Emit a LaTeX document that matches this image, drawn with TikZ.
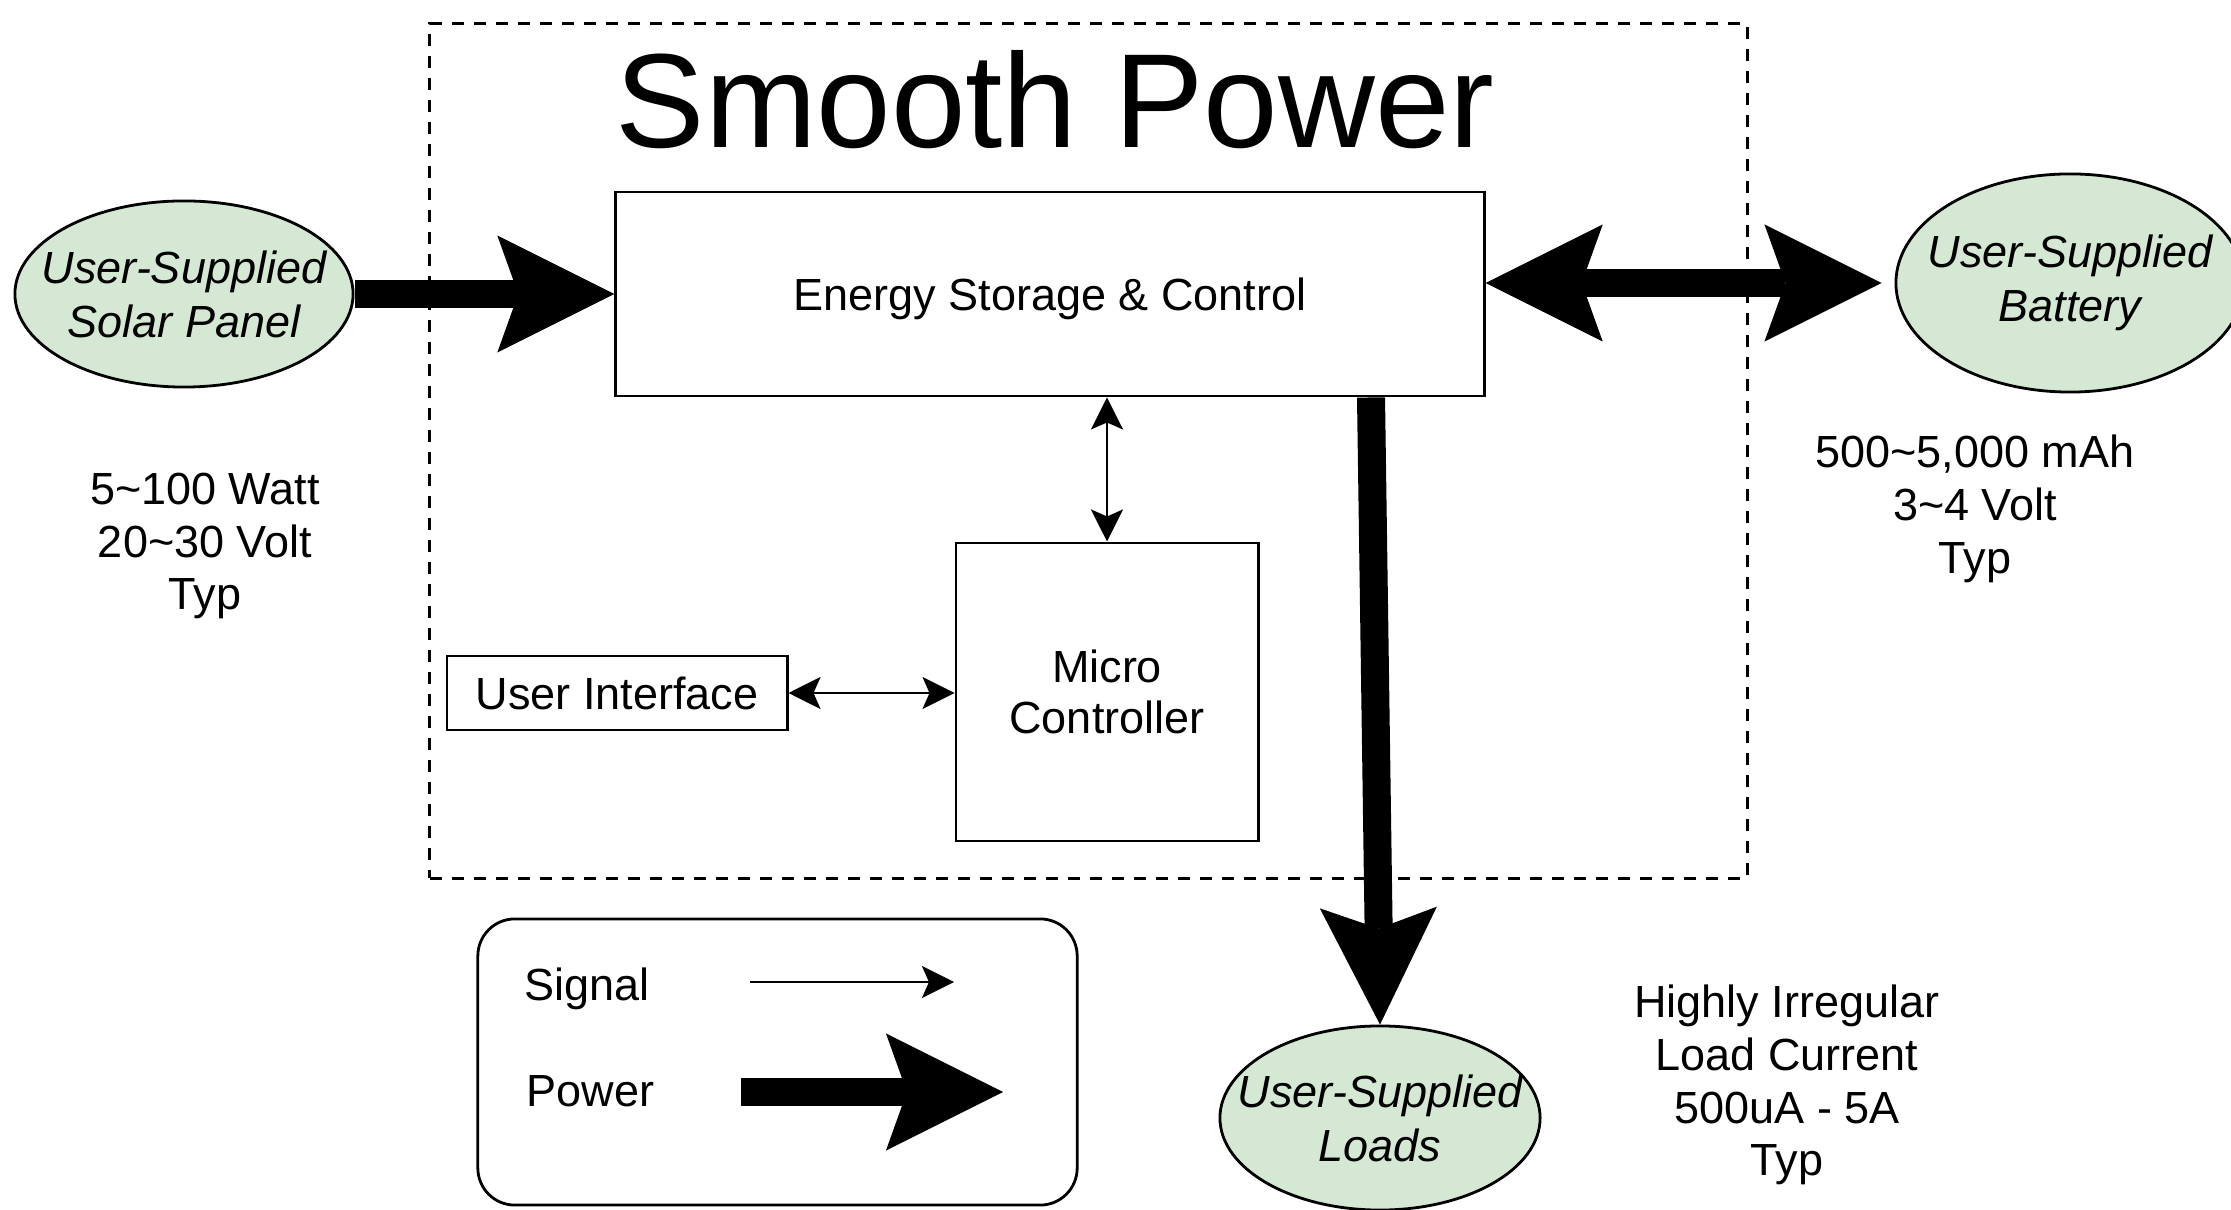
\documentclass[tikz,border=0pt]{standalone}
\usepackage{fontspec}
\setmainfont{Liberation Sans}
\usetikzlibrary{arrows.meta,calc,shapes.geometric}
\definecolor{ellfill}{HTML}{D5E8D4}
\tikzset{
  powtip/.tip={Stealth[length=1.17cm,width=1.17cm,inset=0.21cm,line width=0pt]},
  sigtip/.tip={Stealth[length=0.32cm,width=0.32cm,inset=0.07cm]},
  txt/.style={font=\fontsize{12.8}{15}\selectfont, align=center, inner sep=0pt},
  blk/.style={draw, line width=0.028cm, inner sep=0pt, font=\fontsize{12.8}{14.6}\selectfont, align=center},
  ell/.style={ellipse, draw, line width=0.028cm, fill=ellfill, inner sep=0pt},
  elltext/.style={inner sep=0pt, align=center, font=\fontsize{12.8}{15.4}\selectfont\itshape},
  pow/.style={line width=0.28cm, -powtip},
  powboth/.style={line width=0.28cm, powtip-powtip},
  sig/.style={line width=0.025cm, -sigtip},
  sigboth/.style={line width=0.025cm, sigtip-sigtip},
  sysbox/.style={draw, dashed, line width=0.028cm, dash pattern=on 0.12cm off 0.1cm, inner sep=0pt},
}
\begin{document}
\begin{tikzpicture}[x=0.01cm,y=-0.01cm]
\fill[white] (0,0) rectangle (2231,1210);
\useasboundingbox (0,0) rectangle (2231,1210);

% system boundary
\node[sysbox, minimum width=13.17cm, minimum height=8.54cm] (sys) at (1088.5,451) {};
\node[anchor=base, inner sep=0pt, font=\fontsize{38.1}{40}\selectfont] (title) at (1055,148) {Smooth Power};

% blocks
\node[blk, text depth=0pt, minimum width=8.68cm, minimum height=2.04cm] (energy) at (1050,294) {Energy Storage \& Control};
\node[blk, minimum width=3.02cm, minimum height=2.98cm] (micro) at (1107,692) {Micro\\Controller};
\node[blk, text depth=0pt, minimum width=3.40cm, minimum height=0.74cm] (ui) at (617,693) {User Interface};

% external ellipses
\node[ell, minimum width=3.38cm, minimum height=1.86cm] (solar) at (184,294) {};
\node[elltext] (solart) at (solar.center) {User-Supplied\\Solar Panel};
\node[ell, minimum width=3.48cm, minimum height=2.18cm] (battery) at (2070,283) {};
\node[elltext] (batteryt) at (battery.center) {User-Supplied\\Battery};
\node[ell, minimum width=3.20cm, minimum height=1.84cm] (loads) at (1380,1118) {};
\node[elltext] (loadst) at (loads.center) {User-Supplied\\Loads};

% spec texts
\node[txt] (solarspec) at (205,546) {5\textasciitilde100 Watt\\20\textasciitilde30 Volt\\Typ};
\node[txt] (batspec) at (1975,509) {500\textasciitilde5,000 mAh\\3\textasciitilde4 Volt\\Typ};
\node[txt] (loadspec) at (1787,1085) {Highly Irregular\\Load Current\\500uA - 5A\\Typ};

% power connectors
\draw[pow] (solar.east) -- (energy.west);
\draw[powboth, shorten >=0.13cm] (energy.east |- battery.center) -- (battery.west);
\draw[pow] ($(energy.south)+(321,0)$) -- (loads.north);

% signal connectors
\draw[sigboth] (micro.north |- energy.south) -- (micro.north);
\draw[sigboth] (ui.east) -- (ui.east -| micro.west);

% legend
\node[draw, line width=0.028cm, rounded corners=0.37cm, minimum width=5.99cm, minimum height=2.86cm] (legend) at (777.5,1062) {};
\node[anchor=base west, inner sep=0pt, font=\fontsize{12.8}{15}\selectfont] (lsig) at (524,1000) {Signal};
\node[anchor=base west, inner sep=0pt, font=\fontsize{12.8}{15}\selectfont] (lpow) at (526,1106) {Power};
\coordinate (ls1) at (750,982);
\coordinate (ls2) at (954,982);
\coordinate (lp1) at (741,1092);
\coordinate (lp2) at (1003,1092);
\draw[sig] (ls1) -- (ls2);
\draw[pow] (lp1) -- (lp2);
\end{tikzpicture}
\end{document}
